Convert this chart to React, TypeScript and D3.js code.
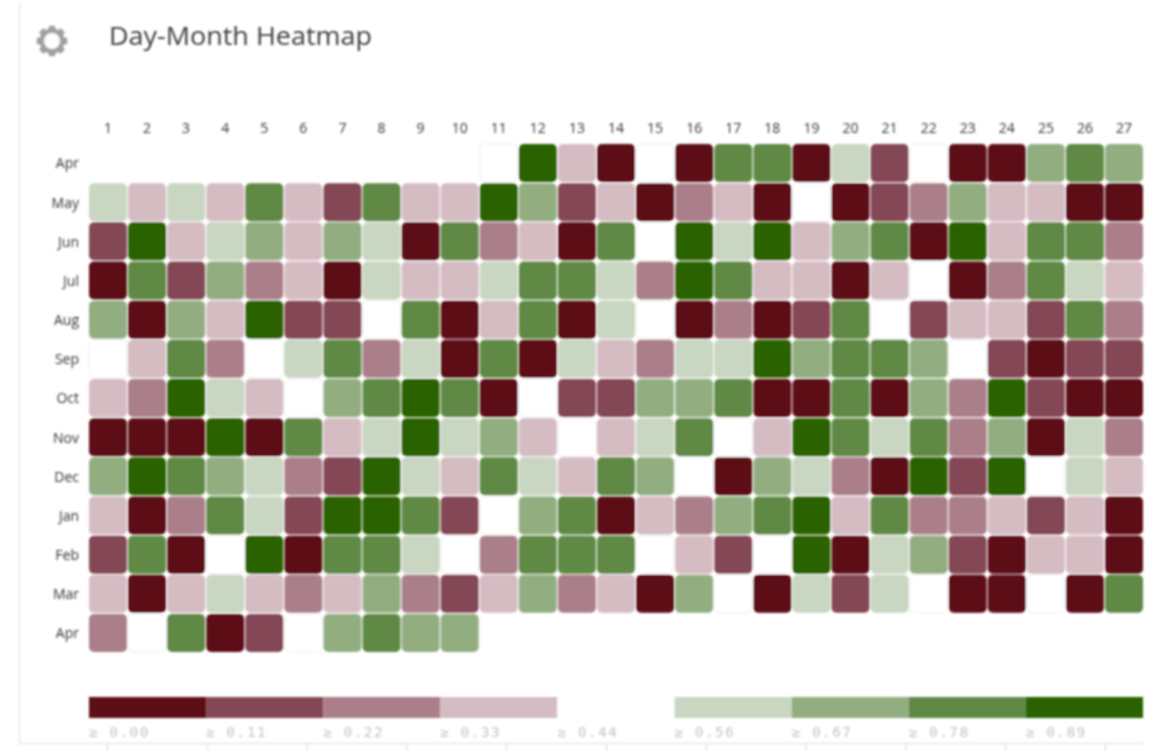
import React, { useEffect, useRef } from 'react'
import * as d3 from 'd3'

const months = ['Apr', 'May', 'Jun', 'Jul', 'Aug', 'Sep', 'Oct', 'Nov', 'Dec', 'Jan', 'Feb', 'Mar', 'Apr']
const days = d3.range(1, 28)
const thresholds = [0.11, 0.22, 0.33, 0.44, 0.56, 0.67, 0.78, 0.89]
const legendLabels = ['0.00', '0.11', '0.22', '0.33', '0.44', '0.56', '0.67', '0.78', '0.89']
const palette = ['#5c0818', '#844655', '#ab7f89', '#d5bcc3', '#ffffff', '#c9d6c1', '#92ae81', '#5f8945', '#2a6206']

// values per day (null = no data)
const n = null
const apr1 = [n, n, n, n, n, n, n, n, n, n, .5, .95, .38, .05, .5, .05, .83, .83, .05, .6, .16, .5, .05, .05, .72, .83, .72]
const may = [.6, .38, .6, .38, .83, .38, .16, .83, .38, .38, .95, .72, .16, .38, .05, .27, .38, .05, .5, .05, .16, .27, .72, .38, .38, .05, .05]
const jun = [.16, .95, .38, .6, .72, .38, .72, .6, .05, .83, .27, .38, .05, .83, .5, .95, .6, .95, .38, .72, .83, .05, .95, .38, .83, .83, .27]
const jul = [.05, .83, .16, .72, .27, .38, .05, .6, .38, .38, .6, .83, .83, .6, .27, .95, .83, .38, .38, .05, .38, .5, .05, .27, .83, .6, .38]
const aug = [.72, .05, .72, .38, .95, .16, .16, .5, .83, .05, .38, .83, .05, .6, .5, .05, .27, .05, .16, .83, .5, .16, .38, .38, .16, .83, .27]
const sep = [.5, .38, .83, .27, .5, .6, .83, .27, .6, .05, .83, .05, .6, .38, .27, .6, .6, .95, .72, .83, .83, .72, .5, .16, .05, .16, .16]
const oct = [.38, .27, .95, .6, .38, .5, .72, .83, .95, .83, .05, .5, .16, .16, .72, .72, .83, .05, .05, .83, .05, .72, .27, .95, .16, .05, .05]
const nov = [.05, .05, .05, .95, .05, .83, .38, .6, .95, .6, .72, .38, .5, .38, .6, .83, .5, .38, .95, .83, .6, .83, .27, .72, .05, .6, .27]
const dec = [.72, .95, .83, .72, .6, .27, .16, .95, .6, .38, .83, .6, .38, .83, .72, .5, .05, .72, .6, .27, .05, .95, .16, .95, .5, .6, .38]
const jan = [.38, .05, .27, .83, .6, .16, .95, .95, .83, .16, .5, .72, .83, .05, .38, .27, .72, .83, .95, .38, .83, .27, .27, .38, .16, .38, .05]
const feb = [.16, .83, .05, .5, .95, .05, .83, .83, .6, .5, .27, .83, .83, .83, .5, .38, .16, .5, .95, .05, .6, .72, .16, .05, .38, .38, .05]
const mar = [.38, .05, .38, .6, .38, .27, .38, .72, .27, .16, .38, .72, .27, .38, .05, .72, .5, .05, .6, .16, .6, .5, .05, .05, .5, .05, .83]
const apr2 = [.27, .5, .83, .05, .16, .5, .72, .83, .72, .72, n, n, n, n, n, n, n, n, n, n, n, n, n, n, n, n, n]
const rows = [apr1, may, jun, jul, aug, sep, oct, nov, dec, jan, feb, mar, apr2]

const gearTeeth = d3.range(8)

export default function App() {
  const ref = useRef<SVGSVGElement>(null)

  useEffect(() => {
    const svg = d3.select(ref.current)
    svg.selectAll('*').remove()

    svg.append('defs').append('filter').attr('id', 'soft')
      .attr('x', 0).attr('y', 0).attr('width', 1161).attr('height', 751)
      .attr('filterUnits', 'userSpaceOnUse')
      .append('feGaussianBlur').attr('stdDeviation', 0.8)

    const root = svg.append('g').attr('filter', 'url(#soft)')

    const x = d3.scaleBand<number>().domain(days).range([89, 1143]).paddingInner(0.03)
    const y = d3.scaleBand<number>().domain(d3.range(months.length)).range([144, 652]).paddingInner(0.03)
    const color = d3.scaleThreshold<number, string>().domain(thresholds).range(palette)

    // frame
    root.append('path').attr('d', 'M19.5,3V743.5H1143').attr('fill', 'none').attr('stroke', '#e6e6e6').attr('stroke-width', 1.5)

    // gear icon
    const gearPts = gearTeeth.flatMap(i => {
      const a = (i * Math.PI) / 4
      return [
        [a - 0.3, 12.5], [a - 0.18, 15.5], [a + 0.18, 15.5], [a + 0.3, 12.5],
      ] as [number, number][]
    })
    const gearLine = d3.lineRadial().angle(d => d[0]).radius(d => d[1]).curve(d3.curveLinearClosed)
    const gear = root.append('g').attr('transform', 'translate(52,41)')
    gear.append('path').attr('d', gearLine(gearPts)).attr('fill', '#a0a0a0')
    gear.append('circle').attr('r', 8).attr('fill', '#fff')

    root.append('text').attr('x', 109).attr('y', 45)
      .attr('font-family', '"Open Sans"').attr('font-size', 26).attr('fill', '#3c3c3c')
      .attr('textLength', 263).attr('lengthAdjust', 'spacingAndGlyphs')
      .text('Day-Month Heatmap')

    // axes
    const xAxis = root.append('g').attr('transform', 'translate(0,133)')
      .call(d3.axisTop(x).tickSize(0).tickPadding(0))
    const yAxis = root.append('g').attr('transform', 'translate(79,1)')
      .call(d3.axisLeft(y).tickSize(0).tickPadding(0).tickFormat(i => months[i as number]))
    ;[xAxis, yAxis].forEach(a => {
      a.select('.domain').remove()
      a.selectAll('text').attr('font-family', '"Open Sans"').attr('font-size', 14).attr('fill', '#333')
    })

    // cells
    const cells = rows.flatMap((row, r) => row.map((v, i) => ({ r, day: days[i], v }))).filter(d => d.v !== null)
    root.append('g').selectAll('rect').data(cells).enter().append('rect')
      .attr('x', d => x(d.day)!)
      .attr('y', d => y(d.r)!)
      .attr('width', x.bandwidth())
      .attr('height', y.bandwidth())
      .attr('rx', 5)
      .attr('fill', d => color(d.v as number))
      .attr('stroke', d => (color(d.v as number) === '#ffffff' ? '#ececec' : 'none'))

    // legend
    const legend = d3.scaleBand<number>().domain(d3.range(palette.length)).range([89, 1143])
    root.append('g').selectAll('rect').data(palette).enter().append('rect')
      .attr('x', (_, i) => legend(i)!)
      .attr('y', 697)
      .attr('width', legend.bandwidth())
      .attr('height', 21)
      .attr('fill', d => d)
    root.append('g').selectAll('text').data(legendLabels).enter().append('text')
      .attr('x', (_, i) => legend(i)!)
      .attr('y', 737)
      .attr('font-family', '"DejaVu Sans Mono"').attr('font-size', 14.5)
      .attr('letter-spacing', 1.4)
      .attr('fill', '#c6c6c6')
      .text(d => `≥ ${d}`)

    // bottom tick marks
    const bottom = d3.scaleLinear().domain([0, 10]).range([107, 1105])
    const bottomAxis = root.append('g').attr('transform', 'translate(0,743.5)')
      .call(d3.axisBottom(bottom).ticks(10).tickSize(8).tickFormat(() => ''))
    bottomAxis.select('.domain').remove()
    bottomAxis.selectAll('line').attr('stroke', '#dcdcdc')
  }, [])

  return <svg ref={ref} width={1161} height={751} style={{ position: 'absolute', left: 0, top: 0, background: '#fff' }} />
}
